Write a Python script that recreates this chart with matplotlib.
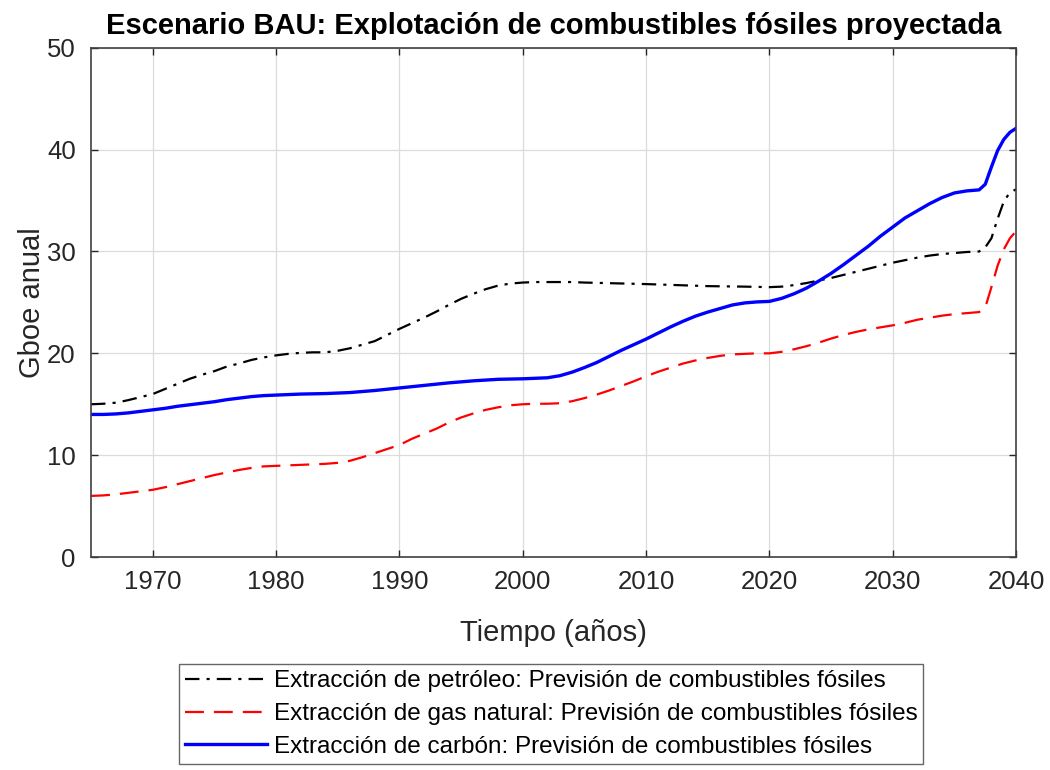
import matplotlib.pyplot as plt
import matplotlib.font_manager as fm

plt.rcParams['font.family'] = ['Liberation Sans', 'DejaVu Sans']

# ---- data ----
years_oil = [1965, 1966, 1967, 1968, 1969, 1970, 1971, 1972, 1973, 1974, 1975,
             1976, 1977, 1978, 1979, 1980, 1981, 1982, 1983, 1984, 1985, 1986,
             1987, 1988, 1989, 1990, 1991, 1992, 1993, 1994, 1995, 1996, 1997,
             1998, 1999, 2000, 2001, 2002, 2003, 2004, 2005, 2010, 2015, 2018,
             2020, 2021, 2022, 2023, 2024, 2025, 2026, 2027, 2028, 2029, 2030,
             2031, 2032, 2033, 2034, 2035, 2036, 2037, 2037.5, 2038, 2038.5,
             2039, 2039.5, 2040]
oil = [15.0, 15.05, 15.15, 15.4, 15.7, 16.0, 16.5, 17.0, 17.5, 17.9, 18.25,
       18.7, 19.0, 19.35, 19.6, 19.8, 19.95, 20.05, 20.1, 20.1, 20.25, 20.5,
       20.85, 21.2, 21.8, 22.4, 22.95, 23.5, 24.1, 24.75, 25.35, 25.85, 26.3,
       26.65, 26.85, 26.95, 27.0, 27.0, 27.0, 27.0, 26.95, 26.8, 26.6, 26.55,
       26.5, 26.55, 26.7, 26.9, 27.15, 27.4, 27.7, 28.0, 28.3, 28.6, 28.9,
       29.15, 29.4, 29.6, 29.75, 29.85, 29.95, 30.0, 30.4, 31.3, 33.2,
       34.9, 35.8, 36.1]

years_gas = [1965, 1966, 1967, 1968, 1969, 1970, 1971, 1972, 1973, 1974, 1975,
             1976, 1977, 1978, 1979, 1980, 1981, 1982, 1983, 1984, 1985, 1986,
             1987, 1988, 1989, 1990, 1991, 1992, 1993, 1994, 1995, 1996, 1997,
             1998, 1999, 2000, 2001, 2002, 2003, 2004, 2005, 2006, 2007, 2008,
             2009, 2010, 2011, 2012, 2013, 2014, 2015, 2016, 2017, 2018, 2019,
             2020, 2021, 2022, 2023, 2024, 2025, 2026, 2027, 2028, 2029, 2030,
             2031, 2032, 2033, 2034, 2035, 2036, 2037, 2037.5, 2038, 2038.5,
             2039, 2039.5, 2040]
gas = [6.0, 6.05, 6.15, 6.3, 6.45, 6.6, 6.85, 7.15, 7.45, 7.75, 8.05,
       8.3, 8.55, 8.75, 8.9, 8.95, 9.0, 9.05, 9.1, 9.15, 9.25, 9.45,
       9.8, 10.2, 10.6, 11.0, 11.6, 12.1, 12.6, 13.2, 13.7, 14.1, 14.45,
       14.7, 14.9, 15.0, 15.05, 15.05, 15.1, 15.3, 15.6, 15.95, 16.35, 16.8,
       17.25, 17.75, 18.2, 18.6, 19.0, 19.3, 19.55, 19.75, 19.9, 19.95, 20.0,
       20.0, 20.15, 20.4, 20.7, 21.05, 21.45, 21.8, 22.1, 22.35, 22.55, 22.75,
       23.0, 23.3, 23.5, 23.7, 23.85, 23.95, 24.05, 24.5, 26.5, 28.6,
       30.2, 31.3, 32.0]

years_coal = [1965, 1966, 1967, 1968, 1969, 1970, 1971, 1972, 1973, 1974, 1975,
              1976, 1977, 1978, 1979, 1980, 1982, 1984, 1986, 1988, 1990, 1992,
              1994, 1996, 1998, 2000, 2001, 2002, 2003, 2004, 2005, 2006, 2007,
              2008, 2009, 2010, 2011, 2012, 2013, 2014, 2015, 2016, 2017, 2018,
              2019, 2020, 2021, 2022, 2023, 2024, 2025, 2026, 2027, 2028, 2029,
              2030, 2031, 2032, 2033, 2034, 2035, 2036, 2037, 2037.5, 2038,
              2038.5, 2039, 2039.5, 2040]
coal = [14.0, 14.0, 14.05, 14.15, 14.3, 14.45, 14.6, 14.8, 14.95, 15.1, 15.25,
        15.45, 15.6, 15.75, 15.85, 15.9, 16.0, 16.05, 16.15, 16.35, 16.6, 16.85,
        17.1, 17.3, 17.45, 17.5, 17.55, 17.6, 17.8, 18.15, 18.6, 19.1, 19.7,
        20.3, 20.85, 21.4, 22.0, 22.6, 23.15, 23.65, 24.05, 24.4, 24.75, 24.95,
        25.05, 25.1, 25.4, 25.85, 26.4, 27.1, 27.85, 28.7, 29.6, 30.5, 31.5,
        32.4, 33.3, 34.0, 34.7, 35.3, 35.75, 35.95, 36.05, 36.6, 38.3,
        39.9, 41.0, 41.7, 42.1]

labels = ["Extracción de petróleo: Previsión de combustibles fósiles",
          "Extracción de gas natural: Previsión de combustibles fósiles",
          "Extracción de carbón: Previsión de combustibles fósiles"]
xticks = [1970, 1980, 1990, 2000, 2010, 2020, 2030, 2040]
yticks = [0, 10, 20, 30, 40, 50]

# pick the regular-width bold face explicitly (avoid the Narrow variant)
bold_path = None
for f in fm.fontManager.ttflist:
    if f.name == 'Liberation Sans' and f.weight in (700, 'bold') and 'Narrow' not in f.fname \
            and f.style == 'normal':
        bold_path = f.fname
if bold_path:
    title_font = fm.FontProperties(fname=bold_path, size=21)
else:
    title_font = fm.FontProperties(family='DejaVu Sans', weight='bold', size=19)

fig = plt.figure(figsize=(10.5, 7.7), dpi=100)
ax = fig.add_axes([0.0867, 0.2766, 0.881, 0.6613])

ax.plot(years_oil, oil, color='black', linestyle=(0, (6.5, 3.2, 1.4, 3.2)), lw=1.6, label=labels[0])
ax.plot(years_gas, gas, color='#ff0000', linestyle=(0, (8.5, 4.5)), lw=1.6, label=labels[1])
ax.plot(years_coal, coal, color='#0000ff', linestyle='-', lw=2.4, label=labels[2])

ax.set_xlim(1965, 2040)
ax.set_ylim(0, 50)
ax.set_xticks(xticks)
ax.set_yticks(yticks)
ax.grid(True, color='#dcdcdc', lw=0.9)
ax.set_axisbelow(True)
ax.tick_params(direction='in', top=True, right=True, length=5, width=1,
               colors='#262626', labelsize=18.5, pad=9)
ax.tick_params(axis='y', pad=11)
for sp in ax.spines.values():
    sp.set_color('#404040')
    sp.set_linewidth(1.2)

ax.set_title("Escenario BAU: Explotación de combustibles fósiles proyectada",
             fontproperties=title_font, pad=10)
ax.set_xlabel("Tiempo (años)", fontsize=21, color='#262626', labelpad=18)
ax.set_ylabel("Gboe anual", fontsize=21, color='#262626', labelpad=1)

leg = fig.legend(loc='center', bbox_to_anchor=(0.5248, 0.0727), fontsize=17.5,
                 frameon=True, fancybox=False, handlelength=3.4, handletextpad=0.25,
                 borderpad=0.25, labelspacing=0.45, borderaxespad=0)
leg.get_frame().set_edgecolor('#404040')
leg.get_frame().set_linewidth(1.0)

fig.savefig("out.png", dpi=100)
plt.close(fig)
